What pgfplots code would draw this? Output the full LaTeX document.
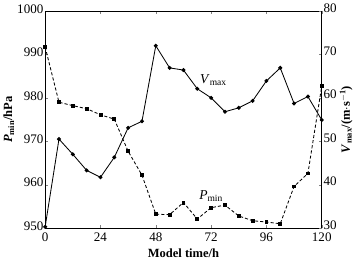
\documentclass[border=0pt]{standalone}
\usepackage{fontspec}
\setmainfont{Liberation Serif}
\usepackage{pgfplots}
\pgfplotsset{compat=1.18}
\begin{document}
\begin{tikzpicture}
\pgfplotsset{
  every axis/.append style={font=\fontsize{12}{14}\selectfont, line width=0.8pt},
  every tick label/.append style={font=\fontsize{12.5}{14}\selectfont},
  every axis label/.append style={font=\fontsize{12}{14}\selectfont},
}
\begin{axis}[
  scale only axis, width=265pt, height=208pt,
  xmin=0, xmax=120, ymin=950, ymax=1000,
  xtick={0,24,...,120}, ytick={950,960,...,1000},
  tick align=inside, axis y line*=left,
  x axis line style={-}, y axis line style={-},
  xtick pos=both,
  major tick length=3pt,
  /pgf/number format/assume math mode=true,
  /pgf/number format/1000 sep={},
  xticklabel style={yshift=-1pt},
  yticklabel style={xshift=2pt, yshift=2pt},
  xlabel={\textbf{Model time/h}},
  ylabel={\textbf{\textit{P}\textsubscript{min}/hPa}},
  ylabel style={yshift=-4pt},
  xlabel style={yshift=0pt},
]
\addplot[black, densely dashed, line width=0.8pt, mark=square*, mark size=1.4pt, mark options={solid}] coordinates {
(0,991.7)(6,979.0)(12,978.2)(18,977.5)(24,976.1)(30,975.1)(36,967.7)(42,962.2)(48,953.2)(54,953.1)(60,955.9)(66,952.1)(72,954.7)(78,955.3)(84,952.8)(90,951.7)(96,951.4)(102,951.0)(108,959.6)(114,962.6)(120,982.7)};
\node[font=\fontsize{13}{14}\selectfont] at (axis cs:72,957.3) {\textit{P}\textsubscript{min}};
\node[font=\fontsize{13}{14}\selectfont] at (axis cs:73,984.1) {\textit{V}\textsubscript{max}};
\end{axis}
\begin{axis}[
  scale only axis, width=265pt, height=208pt,
  xmin=0, xmax=120, ymin=30, ymax=80,
  ytick={30,40,...,80},
  axis x line=none, axis y line*=right,
  y axis line style={-},
  tick align=inside,
  major tick length=3pt,
  /pgf/number format/assume math mode=true,
  yticklabel style={xshift=-2pt, yshift=3pt},
  ylabel={\textbf{\textit{V}\textsubscript{max}/(m$\cdot$s\textsuperscript{$-$1})}},
  ylabel style={yshift=4pt},
]
\addplot[black, solid, line width=0.8pt, mark=*, mark size=1.5pt] coordinates {
(0,30.3)(6,50.5)(12,47.0)(18,43.3)(24,41.7)(30,46.3)(36,53.1)(42,54.6)(48,72.0)(54,66.9)(60,66.4)(66,62.1)(72,60.0)(78,56.8)(84,57.7)(90,59.3)(96,63.9)(102,66.9)(108,58.7)(114,60.3)(120,54.9)};
\end{axis}
\end{tikzpicture}
\end{document}
